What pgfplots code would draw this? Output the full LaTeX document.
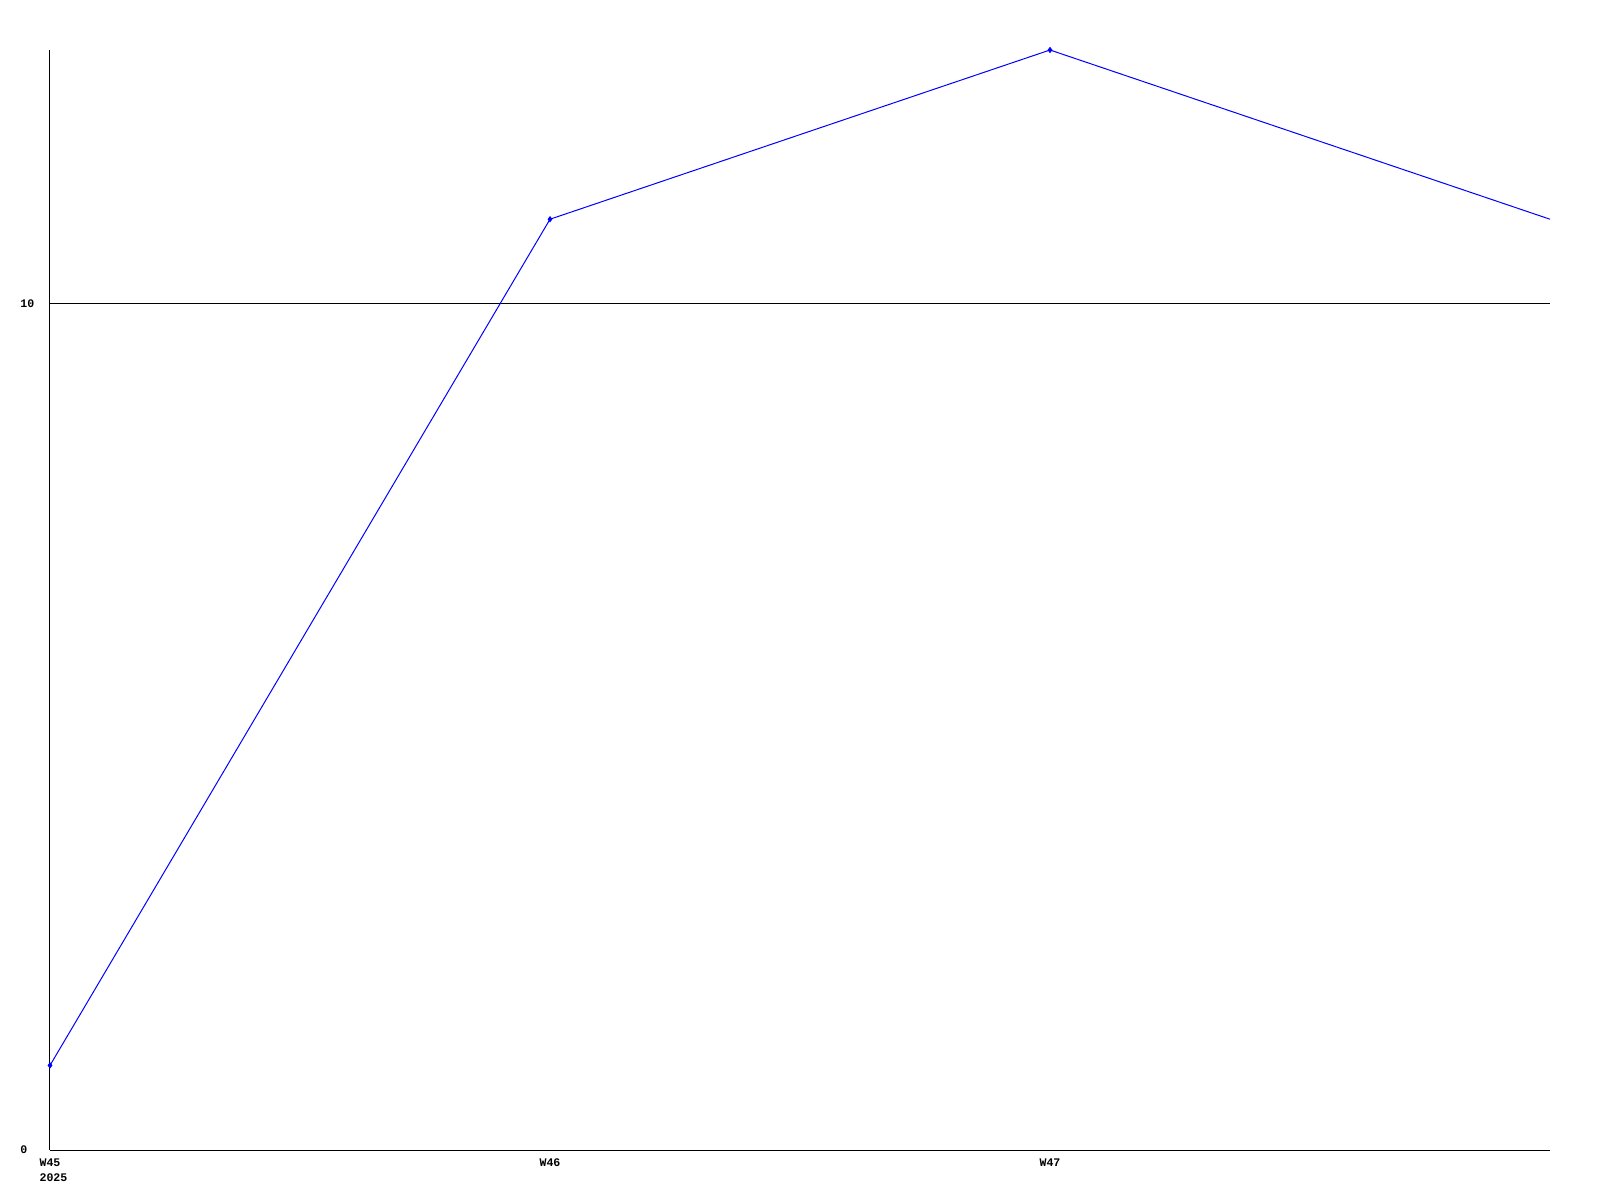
\documentclass[border=0pt]{standalone}
\usepackage{fontspec}
\setmainfont{Liberation Mono}
\usepackage{pgfplots}
\pgfplotsset{compat=1.18}
\definecolor{lineblue}{RGB}{0,0,255}

\begin{document}
\begin{tikzpicture}
\begin{axis}[
    at={(0,0)}, anchor=south west,
    scale only axis,
    width=750pt, height=550pt,
    xmin=0, xmax=3, ymin=0, ymax=13,
    axis x line=bottom, axis y line=left,
    axis line style={-, black, line width=0.5pt},
    xtick={0,1,2},
    xticklabels={{W45\\\makebox[0pt][l]{2025}},W46,W47},
    ytick={0,10},
    major tick length=0pt,
    ymajorgrids,
    grid style={black, line width=0.5pt},
    /pgf/number format/assume math mode=true,
    tick label style={font=\fontsize{5.8}{7.5}\selectfont\bfseries, inner sep=0pt},
    xticklabel style={anchor=north, align=left, yshift=-4pt},
    yticklabel style={anchor=west, xshift=-15pt},
]
\addplot[color=lineblue, line width=0.5pt, mark=diamond*, mark size=1.2pt, mark indices={1,2,3}]
coordinates {
    (0,1)(1,11)(2,13)(3,11)
};
\end{axis}
\path (-25pt,-25pt) rectangle (775pt,575pt);
\end{tikzpicture}
\end{document}
